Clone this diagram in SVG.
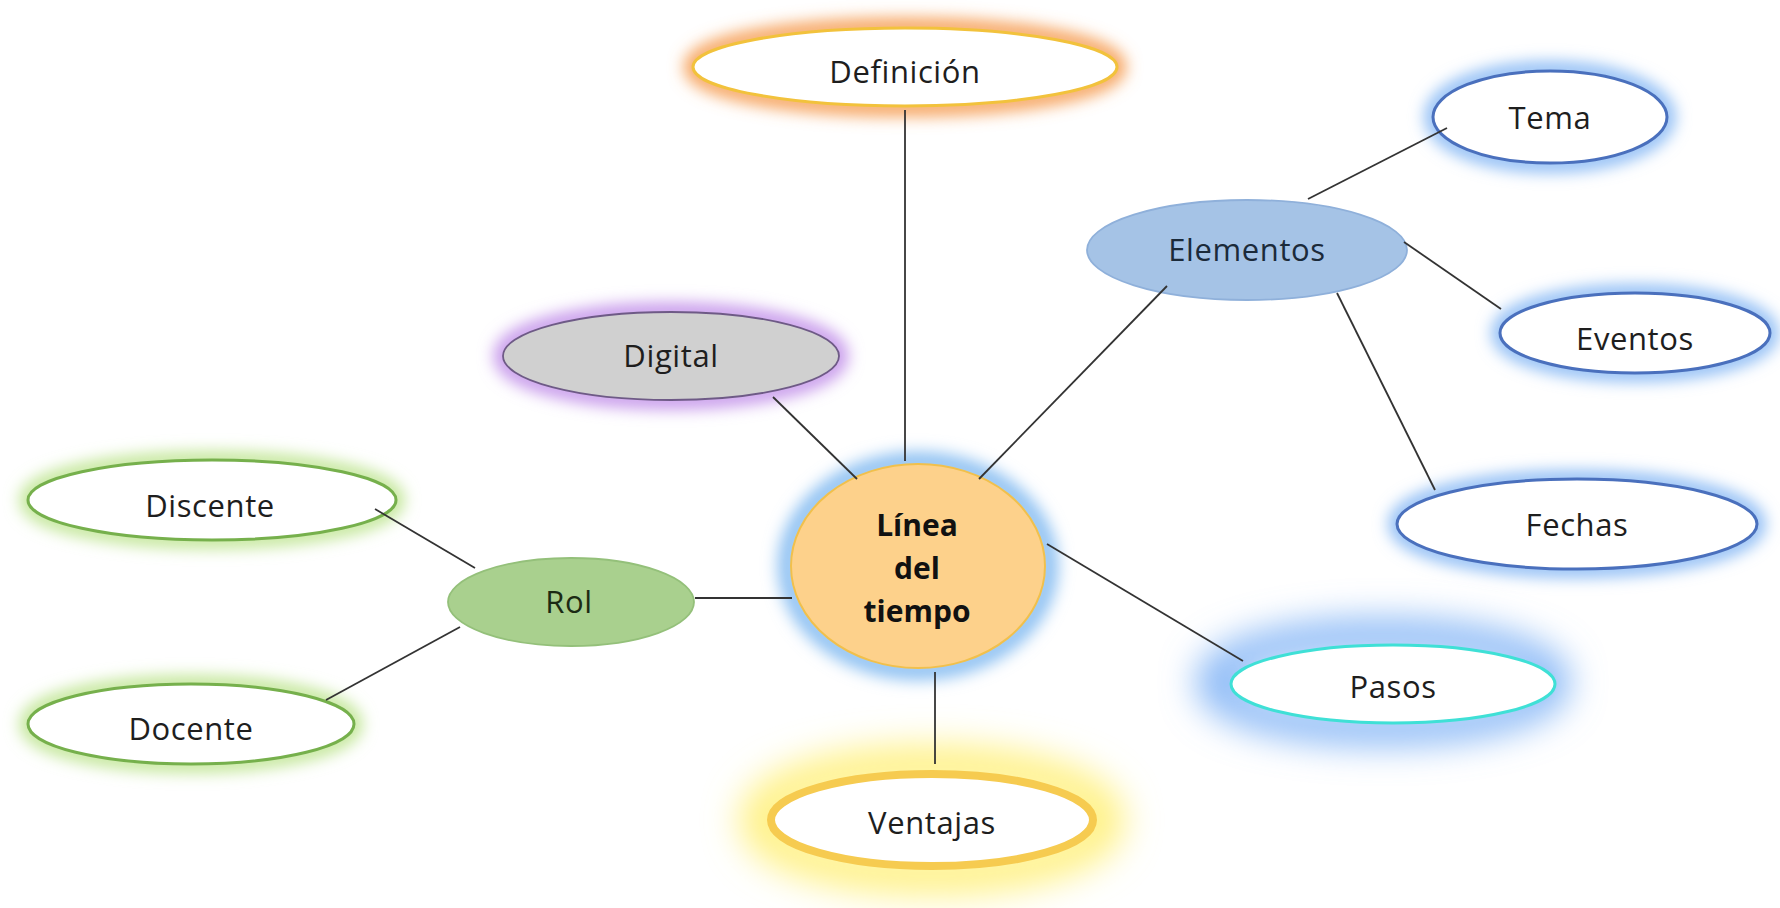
<svg xmlns="http://www.w3.org/2000/svg" width="1780" height="908" viewBox="0 0 1780 908">
<defs>
<filter id="blur" x="-30%" y="-60%" width="160%" height="220%"><feGaussianBlur stdDeviation="8"/></filter>
<filter id="blurBig" x="-40%" y="-100%" width="180%" height="300%"><feGaussianBlur stdDeviation="18"/></filter>
</defs>
<style>
.lbl{font-family:"Open Sans","Liberation Sans",sans-serif;font-size:31px;fill:#1e1e1e;text-anchor:middle;letter-spacing:0.6px}
.ctr{font-family:"Open Sans","Liberation Sans",sans-serif;font-size:30px;font-weight:bold;fill:#111;text-anchor:middle}
.glow{fill:none}
.con{stroke:#333;stroke-width:1.8;fill:none}
.blueNode{fill:#fff;stroke:#4a70bd;stroke-width:3}
.greenNode{fill:#fff;stroke:#76b04c;stroke-width:3}
</style>
<rect width="1780" height="908" fill="#fff"/>

<g id="node-definicion">
<ellipse class="glow" cx="905" cy="67" rx="212" ry="40" stroke="#f6a25c" stroke-width="18" filter="url(#blur)"/>
<ellipse cx="905" cy="67" rx="212" ry="39" fill="#fff" stroke="#f2c23c" stroke-width="3"/>
<text class="lbl" x="905" y="83">Definición</text>
</g>

<g id="node-digital">
<ellipse class="glow" cx="671" cy="356" rx="168" ry="44" stroke="#c595ea" stroke-width="18" filter="url(#blur)"/>
<ellipse cx="671" cy="356" rx="168" ry="44" fill="#d0d0d0" stroke="#6e5a86" stroke-width="1.8"/>
<text class="lbl" x="671" y="367">Digital</text>
</g>

<g id="node-elementos">
<ellipse cx="1247" cy="250" rx="160" ry="50" fill="#a5c3e6" stroke="#8fb0da" stroke-width="1.8"/>
<text class="lbl" x="1247" y="261" style="fill:#1b2a3a">Elementos</text>
</g>

<g id="node-tema">
<ellipse class="glow" cx="1550" cy="117" rx="117" ry="47" stroke="#86b8f4" stroke-width="16" filter="url(#blur)"/>
<ellipse class="blueNode" cx="1550" cy="117" rx="117" ry="46"/>
<text class="lbl" x="1550" y="129">Tema</text>
</g>

<g id="node-eventos">
<ellipse class="glow" cx="1635" cy="333" rx="135" ry="40" stroke="#86b8f4" stroke-width="16" filter="url(#blur)"/>
<ellipse class="blueNode" cx="1635" cy="333" rx="135" ry="40"/>
<text class="lbl" x="1635" y="350">Eventos</text>
</g>

<g id="node-fechas">
<ellipse class="glow" cx="1577" cy="524" rx="180" ry="45" stroke="#86b8f4" stroke-width="16" filter="url(#blur)"/>
<ellipse class="blueNode" cx="1577" cy="524" rx="180" ry="45"/>
<text class="lbl" x="1577" y="536">Fechas</text>
</g>

<g id="node-pasos">
<ellipse class="glow" cx="1383" cy="682" rx="170" ry="46" stroke="#78aef5" stroke-width="30" filter="url(#blurBig)"/>
<ellipse cx="1393" cy="684" rx="162" ry="39" fill="#fff" stroke="#3fe0d6" stroke-width="3"/>
<text class="lbl" x="1393" y="698">Pasos</text>
</g>

<g id="node-linea">
<ellipse class="glow" cx="918" cy="566" rx="130" ry="104" stroke="#8cc0f2" stroke-width="20" filter="url(#blur)"/>
<ellipse cx="918" cy="566" rx="127" ry="102" fill="#fdd18b" stroke="#f1c04c" stroke-width="2"/>
<text class="ctr" x="917" y="536">Línea</text>
<text class="ctr" x="917" y="579">del</text>
<text class="ctr" x="917" y="622">tiempo</text>
</g>

<g id="node-rol">
<ellipse cx="571" cy="602" rx="123" ry="44" fill="#a9d08e" stroke="#94c07a" stroke-width="1.8"/>
<text class="lbl" x="569" y="613" style="fill:#1c2a14">Rol</text>
</g>

<g id="node-discente">
<ellipse class="glow" cx="212" cy="500" rx="184" ry="40" stroke="#bde48f" stroke-width="16" filter="url(#blur)"/>
<ellipse class="greenNode" cx="212" cy="500" rx="184" ry="40"/>
<text class="lbl" x="210" y="517">Discente</text>
</g>

<g id="node-docente">
<ellipse class="glow" cx="191" cy="724" rx="163" ry="40" stroke="#bde48f" stroke-width="16" filter="url(#blur)"/>
<ellipse class="greenNode" cx="191" cy="724" rx="163" ry="40"/>
<text class="lbl" x="191" y="740">Docente</text>
</g>

<g id="node-ventajas">
<ellipse class="glow" cx="932" cy="820" rx="172" ry="54" stroke="#fff07a" stroke-width="38" filter="url(#blurBig)"/>
<ellipse cx="932" cy="820" rx="161" ry="46" fill="#fff" stroke="#f6cb50" stroke-width="8"/>
<text class="lbl" x="932" y="834">Ventajas</text>
</g>

<g id="connectors">
<line class="con" x1="905" y1="110" x2="905" y2="461"/>
<line class="con" x1="935" y1="672" x2="935" y2="764"/>
<line class="con" x1="773" y1="397" x2="857" y2="479"/>
<line class="con" x1="1167" y1="286" x2="979" y2="479"/>
<line class="con" x1="1308" y1="199" x2="1447" y2="128"/>
<line class="con" x1="1404" y1="242" x2="1501" y2="309"/>
<line class="con" x1="1337" y1="293" x2="1435" y2="490"/>
<line class="con" x1="1047" y1="544" x2="1243" y2="661"/>
<line class="con" x1="695" y1="598" x2="792" y2="598"/>
<line class="con" x1="375" y1="509" x2="475" y2="568"/>
<line class="con" x1="326" y1="700" x2="460" y2="627"/>
</g>
</svg>
